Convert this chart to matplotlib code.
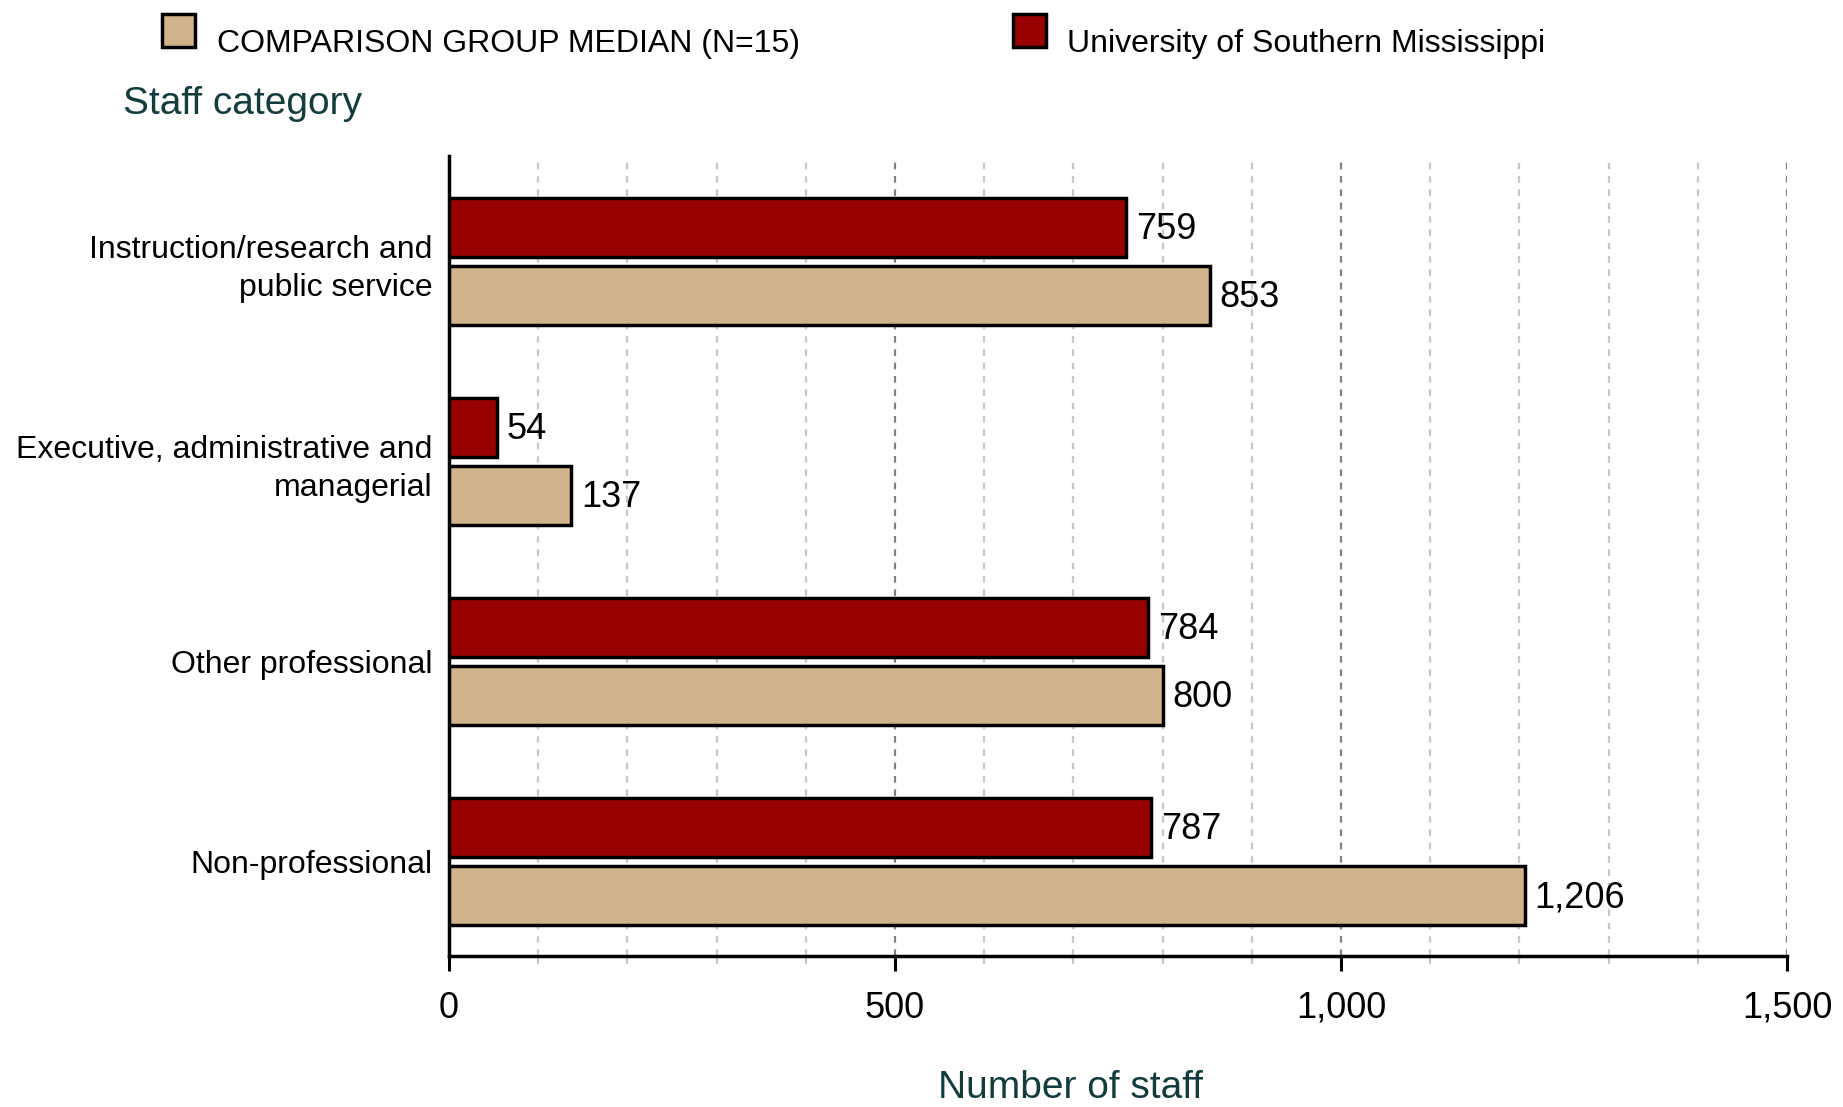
import matplotlib
matplotlib.use("Agg")
import matplotlib.pyplot as plt
from matplotlib.patches import Rectangle
from matplotlib.ticker import MultipleLocator, FuncFormatter

plt.rcParams['font.family'] = ['Liberation Sans', 'DejaVu Sans']

categories = ['Instruction/research and\npublic service',
              'Executive, administrative and\nmanagerial',
              'Other professional',
              'Non-professional']
usm_values = [759, 54, 784, 787]
median_values = [853, 137, 800, 1206]
series_names = ['COMPARISON GROUP MEDIAN (N=15)', 'University of Southern Mississippi']

red = '#990000'
tan = '#d2b48c'
teal = '#143c3c'

fig = plt.figure(figsize=(18.43, 11.07), dpi=100)
ax = fig.add_axes([0.2436, 0.1364, 0.7260, 0.7226])

bar_h = 0.295
off = 0.17
ys = list(range(len(categories)))
ax.barh([y - off for y in ys], usm_values, height=bar_h, color=red,
        edgecolor='black', linewidth=2.5, zorder=3)
ax.barh([y + off for y in ys], median_values, height=bar_h, color=tan,
        edgecolor='black', linewidth=2.5, zorder=3)

for y, v in zip(ys, usm_values):
    ax.annotate('{:,}'.format(v), (v, y - off), xytext=(7, -2), textcoords='offset points',
                va='center', ha='left', fontsize=26)
for y, v in zip(ys, median_values):
    ax.annotate('{:,}'.format(v), (v, y + off), xytext=(7, -2), textcoords='offset points',
                va='center', ha='left', fontsize=26)

ax.set_xlim(0, 1500)
ax.set_ylim(3.475, -0.525)

# gridlines
for x in range(100, 1501, 100):
    if x % 500 == 0:
        ax.axvline(x, color='#808080', lw=1.6, ls=(0, (3, 3)), zorder=1)
    else:
        ax.axvline(x, color='#c8c8c8', lw=1.6, ls=(0, (3, 3)), zorder=1)

ax.xaxis.set_major_locator(MultipleLocator(500))
ax.xaxis.set_minor_locator(MultipleLocator(100))
ax.xaxis.set_major_formatter(FuncFormatter(lambda v, p: '{:,}'.format(int(v))))
ax.tick_params(axis='x', which='major', length=11, width=2.2, labelsize=26, pad=14)
ax.tick_params(axis='x', which='minor', length=6, width=1.6, color='#c8c8c8')

ax.set_yticks(ys)
ax.set_yticklabels(categories, fontsize=23, linespacing=1.35)
ax.tick_params(axis='y', length=0, pad=12)
for lbl in ax.get_yticklabels():
    lbl.set_horizontalalignment('right')
    lbl.set_multialignment('right')

for side in ['top', 'right']:
    ax.spines[side].set_visible(False)
for side in ['left', 'bottom']:
    ax.spines[side].set_linewidth(2.5)

# legend drawn by hand
fig.patches.append(Rectangle((162 / 1843, 1 - 47 / 1107), 33 / 1843, 33 / 1107,
                             transform=fig.transFigure, facecolor=tan,
                             edgecolor='black', linewidth=2.5))
fig.text(217 / 1843, 1 - 44 / 1107, series_names[0], fontsize=23, va='center', ha='left')
fig.patches.append(Rectangle((1013 / 1843, 1 - 47 / 1107), 33 / 1843, 33 / 1107,
                             transform=fig.transFigure, facecolor=red,
                             edgecolor='black', linewidth=2.5))
fig.text(1067 / 1843, 1 - 44 / 1107, series_names[1], fontsize=23, va='center', ha='left')

fig.text(123 / 1843, 1 - 104 / 1107, 'Staff category', fontsize=28, color=teal,
         va='center', ha='left')
fig.text(1070 / 1843, 1 - 1088 / 1107, 'Number of staff', fontsize=28, color=teal,
         va='center', ha='center')

fig.savefig('out.png', dpi=100)
